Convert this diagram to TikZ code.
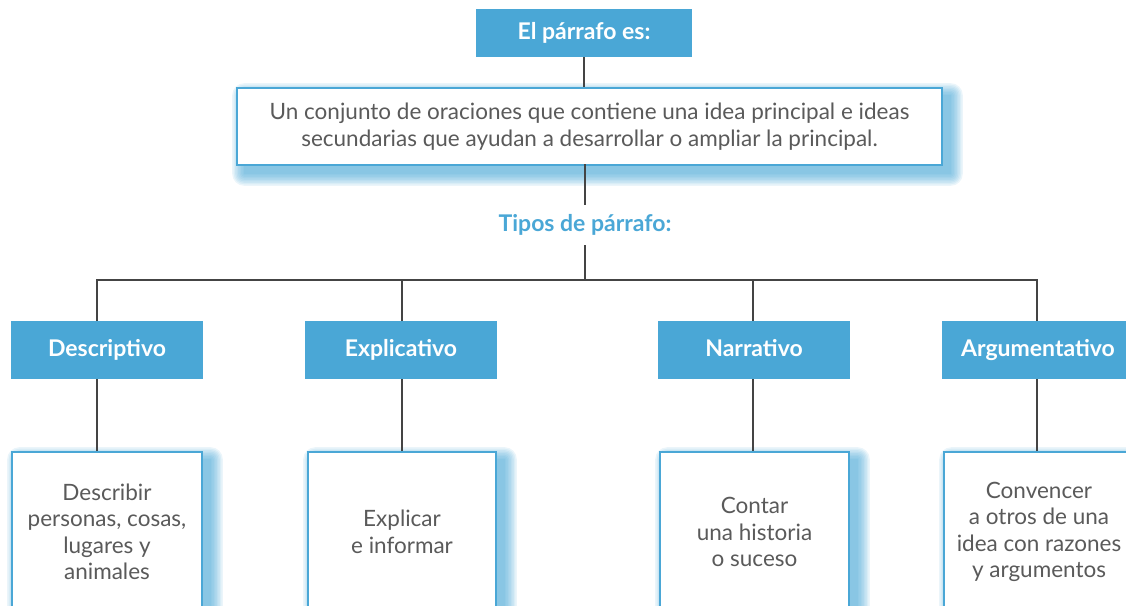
\documentclass[tikz,border=0pt]{standalone}
\usepackage{fontspec}
\setmainfont{Lato}
\definecolor{hblue}{HTML}{4AA7D6}
\definecolor{tgray}{HTML}{5A5A5A}
\definecolor{lgray}{HTML}{444444}
\pgfdeclarelayer{background}
\pgfsetlayers{background,main}
\newcommand{\glowbox}[1]{%
  \begin{pgfonlayer}{background}
  \foreach \r in {0,1.5,...,12}{%
    \fill[hblue,opacity=0.11,rounded corners=\r pt]
      ([shift={(8-\r,8-\r)}]#1.north west) rectangle ([shift={(8+\r,8+\r)}]#1.south east);}
  \end{pgfonlayer}}
\begin{document}
\begin{tikzpicture}[x=1pt,y=-1pt,
  head/.style={fill=hblue,text=white,font=\bfseries\fontsize{23}{26}\selectfont,inner sep=0pt,anchor=center,text height=16pt,text depth=4pt},
  infobox/.style={draw=hblue,line width=1.6pt,fill=white,text=tgray,align=center,inner sep=0pt,
     font=\fontsize{22.5}{26.5}\selectfont},
  conn/.style={draw=lgray,line width=2.6pt}]
\useasboundingbox (0,0) rectangle (1126,605);
\clip (0,0) rectangle (1126,605);
% top
\node[head,minimum width=216pt,minimum height=48pt] (top) at (584,33) {El párrafo es:};
\node[infobox,minimum width=705pt,minimum height=77pt] (main) at (589.5,126.5)
  {Un conjunto de oraciones que contiene una idea principal e ideas\\secundarias que ayudan a desarrollar o ampliar la principal.};
\node[text=hblue,font=\bfseries\fontsize{23}{26}\selectfont,inner sep=0pt,minimum height=40pt] (tipos) at (585,225) {Tipos de párrafo:};
\coordinate (bar) at (585,280);
% type heads
\node[head,minimum width=192pt,minimum height=58pt] (dt) at (107,350) {Descriptivo};
\node[head,minimum width=192pt,minimum height=58pt] (et) at (401,350) {Explicativo};
\node[head,minimum width=192pt,minimum height=58pt] (nt) at (754,350) {Narrativo};
\node[head,minimum width=192pt,minimum height=58pt] (at) at (1038,350) {Argumentativo};
% bottom boxes
\node[infobox,minimum width=190pt,minimum height=160pt] (db) at (107,532) {Describir\\personas, cosas,\\lugares y\\animales};
\node[infobox,minimum width=188pt,minimum height=160pt] (eb) at (402,532) {Explicar\\e informar};
\node[infobox,minimum width=189pt,minimum height=160pt] (nb) at (754.5,532) {Contar\\una historia\\o suceso};
\node[infobox,minimum width=190pt,minimum height=160pt] (ab) at (1039,532) {Convencer\\a otros de una\\idea con razones\\y argumentos};
\glowbox{main}\glowbox{db}\glowbox{eb}\glowbox{nb}\glowbox{ab}
% connectors
\path[conn] (top.south) -- (top.south |- main.north);
\path[conn] (main.north -| tipos.north) ++(0,77) -- (tipos.north);
\path[conn] (tipos.south) -- (bar);
\path[conn] ([xshift=-10pt]dt.north) |- (bar) -| ([xshift=-1pt]at.north);
\path[conn] ([xshift=1pt]et.north) -- ([xshift=1pt]et.north |- bar);
\path[conn] ([xshift=-1pt]nt.north) -- ([xshift=-1pt]nt.north |- bar);
\path[conn] ([xshift=-10pt]dt.south) -- ([xshift=-10pt]dt.south |- db.north);
\path[conn] ([xshift=1pt]et.south) -- ([xshift=1pt]et.south |- eb.north);
\path[conn] ([xshift=-1pt]nt.south) -- ([xshift=-1pt]nt.south |- nb.north);
\path[conn] ([xshift=-1pt]at.south) -- ([xshift=-1pt]at.south |- ab.north);
\end{tikzpicture}
\end{document}
